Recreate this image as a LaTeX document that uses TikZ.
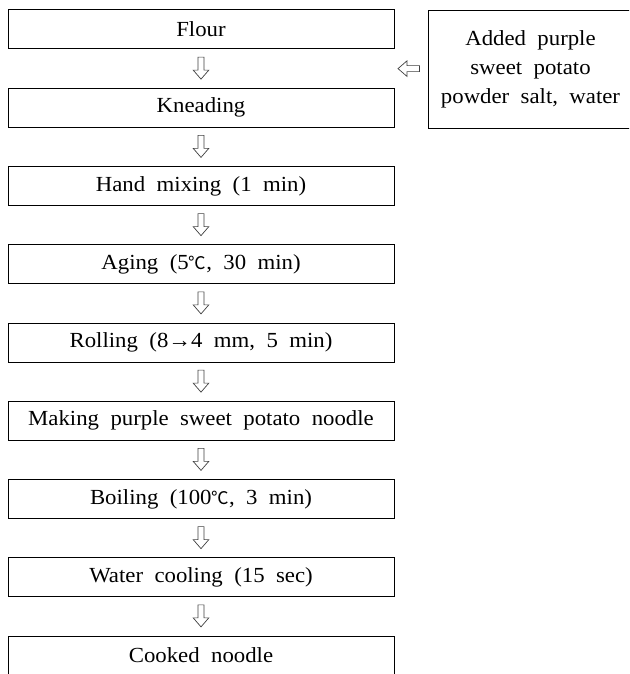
\documentclass[tikz,border=0pt]{standalone}
\usepackage{fontspec}
\setmainfont[WordSpace=2.0,FakeStretch=1.06]{Liberation Serif}
\newfontfamily\cjk{Noto Sans CJK KR}
\usetikzlibrary{calc}
\newcommand\degc{{\cjk\fontsize{17.5}{20}\selectfont ℃}}
\begin{document}
\begin{tikzpicture}[x=1pt,y=1pt,
  box/.style={draw=black, line width=1pt, minimum width=386pt, minimum height=39pt, inner sep=0pt, font=\fontsize{21.5}{25}\selectfont},
  sidebox/.style={draw=black, line width=1pt, minimum width=205pt, minimum height=117pt, inner sep=0pt, align=center, font=\fontsize{21.5}{29}\selectfont},
  arr/.style={draw=black!75, line width=0.7pt, fill=white, line join=miter}]
\clip (0,0) rectangle (629,-674);
\fill[white] (0,0) rectangle (629,-674);
\node[box] (flour)  at (201,-29.5)   {Flour};
\node[box] (knead)  at (201,-107.75) {Kneading};
\node[box] (hand)   at (201,-186)    {Hand mixing (1 min)};
\node[box] (aging)  at (201,-264.25) {Aging (5\degc, 30 min)};
\node[box] (roll)   at (201,-342.5)  {Rolling (8→4 mm, 5 min)};
\node[box] (make)   at (201,-420.75) {Making purple sweet potato noodle};
\node[box] (boil)   at (201,-499)    {Boiling (100\degc, 3 min)};
\node[box] (cool)   at (201,-577.25) {Water cooling (15 sec)};
\node[box] (cooked) at (201,-655.5)  {Cooked noodle};
\node[sidebox] (add) at (530.5,-69.5) {Added purple\\sweet potato\\powder salt, water};
\foreach \a/\b in {flour/knead,knead/hand,hand/aging,aging/roll,roll/make,make/boil,boil/cool,cool/cooked}{
  \coordinate (m) at ($(\a.south)!0.5!(\b.north)$);
  \draw[arr, shift={(m)}] (-3,11.5) -- (3,11.5) -- (3,-1.5) -- (7.8,-1.5) -- (0,-10.5) -- (-7.8,-1.5) -- (-3,-1.5) -- cycle;
}
\coordinate (l) at ($(flour.south east)!0.5!(add.west |- knead.north east)$);
\draw[arr, shift={(l)}, shift={(-2.5,0)}] (11,3) -- (11,-3) -- (-1.5,-3) -- (-1.5,-7.8) -- (-10.5,0) -- (-1.5,7.8) -- (-1.5,3) -- cycle;
\end{tikzpicture}
\end{document}
